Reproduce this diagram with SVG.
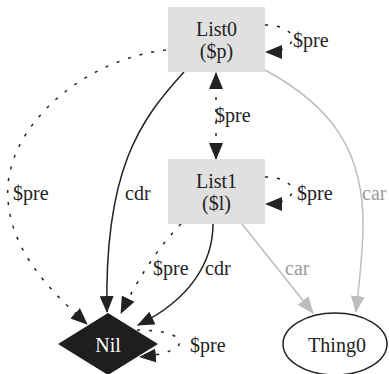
<svg xmlns="http://www.w3.org/2000/svg" width="389" height="374" viewBox="0 0 389 374">
<style>
.e{fill:none;stroke:#222;stroke-width:1.5}
.d{stroke-dasharray:3,9}
.g{stroke:#bdbdbd}
.gl{fill:#9a9a9a}
</style>
<defs>
<marker id="ab" markerWidth="17" markerHeight="14" refX="16" refY="7" orient="auto-start-reverse" markerUnits="userSpaceOnUse" viewBox="0 0 17 14"><path d="M0,0 L17,7 L0,14 z" fill="#222"/></marker>
<marker id="ag" markerWidth="17" markerHeight="14" refX="16" refY="7" orient="auto" markerUnits="userSpaceOnUse" viewBox="0 0 17 14"><path d="M0,0 L17,7 L0,14 z" fill="#bdbdbd"/></marker>
</defs>
<g font-family="Liberation Serif, serif" font-size="20" fill="#222">
<g id="connectors">
<path class="e d" d="M265,25 C301,25 301,52 266,52" marker-end="url(#ab)"/>
<path class="e d" d="M216,73 L216,159" marker-start="url(#ab)" marker-end="url(#ab)"/>
<path class="e d" d="M166,50 C80,60 2,130 8,200 C12,255 55,295 87,324" marker-end="url(#ab)"/>
<path class="e" d="M184,72 C140,120 104,170 107,312" marker-end="url(#ab)"/>
<path class="e d" d="M181,224 C160,245 140,275 121,313" marker-end="url(#ab)"/>
<path class="e" d="M213,224 C213,262 190,300 138,325" marker-end="url(#ab)"/>
<path class="e d" d="M265,177 C301,177 301,204 266,204" marker-end="url(#ab)"/>
<path class="e g" d="M265,70 C330,105 365,150 363,230 C362,262 359,285 356,312" marker-end="url(#ag)"/>
<path class="e g" d="M242,224 L313,313" marker-end="url(#ag)"/>
<path class="e d" d="M137,330 C192,330 195,352 140,357" marker-end="url(#ab)"/>
<text x="293" y="47">$pre</text>
<text x="215" y="122">$pre</text>
<text x="13" y="200">$pre</text>
<text x="125" y="200">cdr</text>
<text x="297" y="200">$pre</text>
<text x="362" y="200" class="gl">car</text>
<text x="153" y="275">$pre</text>
<text x="205" y="275">cdr</text>
<text x="285" y="275" class="gl">car</text>
<text x="190" y="352">$pre</text>
</g>
<g id="List0">
<rect x="168" y="7" width="97" height="65" fill="#e0e0e0"/>
<text x="216.5" y="36" text-anchor="middle">List0</text>
<text x="216.5" y="58" text-anchor="middle">($p)</text>
</g>
<g id="List1">
<rect x="168" y="159" width="97" height="65" fill="#e0e0e0"/>
<text x="216.5" y="188" text-anchor="middle">List1</text>
<text x="216.5" y="210" text-anchor="middle">($l)</text>
</g>
<g id="Nil">
<polygon points="58,344 108,313 158,344 108,375" fill="#1e1e1e"/>
<text x="108" y="352" text-anchor="middle" fill="#fff">Nil</text>
</g>
<g id="Thing0">
<ellipse cx="335" cy="344" rx="52" ry="31" fill="#fff" stroke="#222" stroke-width="1.5"/>
<text x="337" y="352" text-anchor="middle">Thing0</text>
</g>
</g>
</svg>
